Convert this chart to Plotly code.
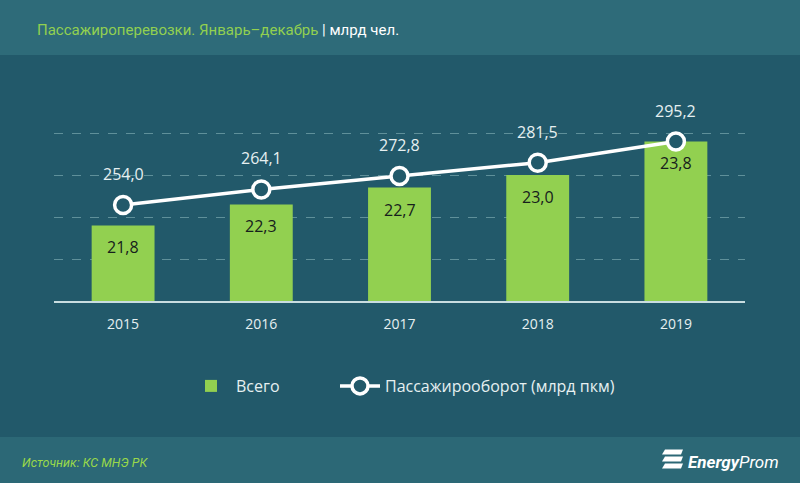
import plotly.graph_objects as go

years = ["2015", "2016", "2017", "2018", "2019"]
total = [21.8, 22.3, 22.7, 23.0, 23.8]
turnover = [254.0, 264.1, 272.8, 281.5, 295.2]
bar_name = "Всего"
line_name = "Пассажирооборот (млрд пкм)"
title_main = "Пассажироперевозки. Январь–декабрь"
title_unit = " | млрд чел."
source = "Источник: КС МНЭ РК"

def fmt(v):
    return f"{v:.1f}".replace(".", ",")

W, H = 800, 483
L, R, T, B = 54, 55, 91, 182
pw, ph = W - L - R, H - T - B

def px(x):
    return (x - L) / pw

def py(y):
    return (H - B - y) / ph

BG = "#22596a"
HDR = "#2e6b79"
FTR = "#2c6876"
GREEN = "#92d050"
TXT = "#e6f0f1"
FONT = "Open Sans"
NARROW = "Roboto"

fig = go.Figure()
fig.add_trace(go.Bar(
    x=years, y=total, name=bar_name, marker=dict(color=GREEN, line=dict(width=0)),
    yaxis="y", hoverinfo="skip", legend="legend"))
fig.add_trace(go.Scatter(
    x=years, y=turnover, name=line_name, mode="lines+markers", yaxis="y2",
    line=dict(color="white", width=3.5),
    marker=dict(symbol="circle", size=17, color=BG, line=dict(color="white", width=3.5)),
    hoverinfo="skip", legend="legend2"))

annotations = []
for i, v in enumerate(total):
    annotations.append(dict(x=i, y=v, xref="x", yref="y", text=fmt(v), showarrow=False,
                            yshift=-22, font=dict(family=FONT, size=16, color="#16201c")))
for i, v in enumerate(turnover):
    annotations.append(dict(x=i, y=v, xref="x", yref="y2", text=fmt(v), showarrow=False,
                            yshift=31, font=dict(family=FONT, size=16, color=TXT)))

annotations.append(dict(
    x=px(35), y=py(30), xref="paper", yref="paper", xanchor="left", yanchor="middle",
    showarrow=False,
    text=f"<span style='color:{GREEN}'>{title_main}</span><span style='color:#ffffff'>{title_unit}</span>",
    font=dict(family=NARROW, size=15)))
annotations.append(dict(
    x=px(20), y=py(462), xref="paper", yref="paper", xanchor="left", yanchor="middle",
    showarrow=False, text=f"<i>{source}</i>",
    font=dict(family=NARROW, size=12.5, color="#9ad84a")))
annotations.append(dict(
    x=px(686), y=py(462), xref="paper", yref="paper", xanchor="left", yanchor="middle",
    showarrow=False, text="<b><i>Energy</i></b><i>Prom</i>",
    font=dict(family="Roboto", size=17, color="white")))

shapes = [
    dict(type="rect", xref="paper", yref="paper", x0=px(0), x1=px(W), y0=py(55), y1=py(0),
         fillcolor=HDR, line=dict(width=0), layer="below"),
    dict(type="rect", xref="paper", yref="paper", x0=px(0), x1=px(W), y0=py(H), y1=py(437),
         fillcolor=FTR, line=dict(width=0), layer="below"),
]
for yc in [452, 459, 466]:
    x0, x1 = 662, 683
    path = (f"M {px(x0+3)} {py(yc-2.5)} L {px(x1)} {py(yc-2.5)} "
            f"L {px(x1-2)} {py(yc+2.5)} L {px(x0)} {py(yc+2.5)} Z")
    shapes.append(dict(type="path", xref="paper", yref="paper", path=path,
                       fillcolor="white", line=dict(width=0)))

leg_common = dict(orientation="h", yanchor="middle", bgcolor="rgba(0,0,0,0)",
                  font=dict(family=FONT, size=16, color=TXT), itemwidth=40)

fig.update_layout(
    width=W, height=H,
    margin=dict(l=L, r=R, t=T, b=B, pad=0),
    paper_bgcolor=BG, plot_bgcolor=BG,
    bargap=0.545,
    showlegend=True,
    legend=dict(x=px(186), y=py(386), xanchor="left", **leg_common),
    legend2=dict(x=px(335), y=py(386), xanchor="left", **leg_common),
    xaxis=dict(type="category", showgrid=False, showline=True, linecolor="#c9dde0",
               linewidth=2, ticks="", tickfont=dict(family=FONT, size=14, color=TXT),
               ticklabelstandoff=9, zeroline=False, fixedrange=True),
    yaxis=dict(range=[20, 25], tickvals=[21, 22, 23, 24], showticklabels=False,
               showgrid=True, gridcolor="#5f909a", griddash="dash", gridwidth=1,
               zeroline=False, showline=False, fixedrange=True),
    yaxis2=dict(range=[191.5, 328.1], overlaying="y", side="right", showgrid=False,
                showticklabels=False, zeroline=False, showline=False, fixedrange=True),
    annotations=annotations,
    shapes=shapes,
)

fig.write_html("out.html", config={"displayModeBar": False})
